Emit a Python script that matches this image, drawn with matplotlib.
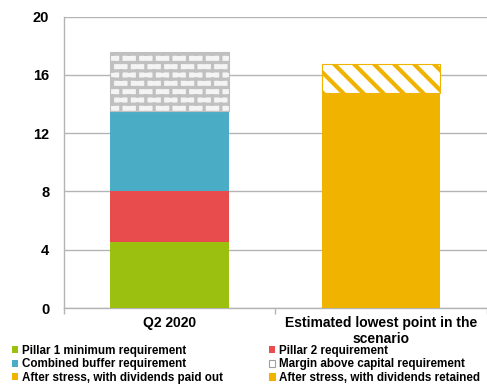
import numpy as np
import matplotlib
matplotlib.use("Agg")
import matplotlib.pyplot as plt
import matplotlib.hatch as mhatch
from matplotlib.path import Path
from matplotlib.patches import Patch

# CET1 ratio components, per cent of risk-weighted assets
categories = ["Q2 2020", "Estimated lowest point in the\nscenario"]
pillar1 = [4.5, 0.0]
pillar2 = [3.5, 0.0]
combined_buffer = [5.5, 0.0]
margin = [4.1, 0.0]
paid_out = [0.0, 14.75]
retained = [0.0, 2.0]

legend_labels = ["Pillar 1 minimum requirement", "Pillar 2 requirement",
                 "Combined buffer requirement", "Margin above capital requirement",
                 "After stress, with dividends paid out", "After stress, with dividends retained"]

GREEN = "#9BC00F"
RED = "#E84C4C"
BLUE = "#4BACC6"
YELLOW = "#F0B400"
MORTAR = "#C0C0C0"
GRID = "#B4B4B4"


class BrickHatch(mhatch.HatchPatternBase):
    """Staggered brick wall, triggered by 'b' in the hatch string."""
    rows, cols = 12, 6

    def __init__(self, hatch, density):
        self.num_vertices = 2 * (self.rows + (self.rows + 1) * self.cols) if "b" in hatch else 0

    def set_vertices_and_codes(self, vertices, codes):
        h = 1.0 / self.rows
        segs = []
        for i in range(self.rows):
            y = (i + 0.5) * h
            segs.append(((0.0, y), (1.0, y)))
        for i in range(-1, self.rows):
            y0 = (i + 0.5) * h
            shift = 0.5 * (i % 2) + 0.25
            for j in range(self.cols):
                x = (j + shift) / self.cols
                segs.append(((x, y0), (x, y0 + h)))
        vertices[:] = np.array(segs).reshape(-1, 2)
        codes[0::2] = Path.MOVETO
        codes[1::2] = Path.LINETO


class StripeHatch(mhatch.HatchPatternBase):
    """Wide diagonal stripes running down to the right, triggered by 's'."""
    n = 5

    def __init__(self, hatch, density):
        self.num_vertices = 4 * self.n if "s" in hatch else 0

    def set_vertices_and_codes(self, vertices, codes):
        c = (np.arange(2 * self.n) + 0.5) / self.n
        vertices[0::2, 0] = c - 1.0
        vertices[0::2, 1] = 1.0
        vertices[1::2, 0] = c
        vertices[1::2, 1] = 0.0
        codes[0::2] = Path.MOVETO
        codes[1::2] = Path.LINETO


mhatch._hatch_types.extend([BrickHatch, StripeHatch])
mhatch._validate_hatch_pattern = lambda hatch: None

plt.rcParams["font.family"] = ["Liberation Sans", "DejaVu Sans"]
plt.rcParams["font.weight"] = "bold"

fig = plt.figure(figsize=(4.87, 3.85), dpi=100)
ax = fig.add_axes([0.131, 0.2, 0.869, 0.7566])

x = np.arange(len(categories))
w = 0.56

ax.bar(x, pillar1, w, color=GREEN, zorder=3)
ax.bar(x, pillar2, w, bottom=pillar1, color=RED, zorder=3)
base = np.add(pillar1, pillar2)
ax.bar(x, combined_buffer, w, bottom=base, color=BLUE, zorder=3)
base = base + combined_buffer
with plt.rc_context({"hatch.linewidth": 2.3, "hatch.color": MORTAR}):
    ax.bar(x, margin, w, bottom=base, color="#F4F4F4", edgecolor=MORTAR,
           hatch="b", linewidth=0.8, zorder=3)
ax.bar(x, paid_out, w, color=YELLOW, zorder=3)
with plt.rc_context({"hatch.linewidth": 3.0, "hatch.color": YELLOW}):
    ax.bar(x, retained, w, bottom=paid_out, color="white", edgecolor=YELLOW,
           hatch="s", linewidth=0.8, zorder=3)

ax.set_xlim(-0.5, 1.5)
ax.set_ylim(0, 20)
ax.set_yticks([0, 4, 8, 12, 16, 20])
ax.yaxis.grid(True, color=GRID, linewidth=1.0, zorder=0)
ax.set_xticks(x)
ax.set_xticklabels(categories, fontsize=10, fontweight="bold", linespacing=1.2)
ax.set_xticks([-0.5, 0.5, 1.5], minor=True)
ax.tick_params(axis="x", which="major", length=0, pad=5.5)
ax.tick_params(axis="x", which="minor", length=4, color=GRID, width=1)
ax.tick_params(axis="y", length=0, pad=10.5, labelsize=10.5)
for lab in ax.get_yticklabels():
    lab.set_fontweight("bold")
for side in ("top", "right"):
    ax.spines[side].set_visible(False)
for side in ("left", "bottom"):
    ax.spines[side].set_color(GRID)
    ax.spines[side].set_linewidth(1.0)

handles = [
    Patch(facecolor=GREEN),
    Patch(facecolor=BLUE),
    Patch(facecolor=YELLOW),
    Patch(facecolor=RED),
    Patch(facecolor="white", edgecolor="#A0A0A0", linewidth=0.8),
    Patch(facecolor=YELLOW, edgecolor=YELLOW, linewidth=0.8),
]
labels = [legend_labels[i] for i in (0, 2, 4, 1, 3, 5)]
fig.legend(handles, labels, ncol=2, loc="upper left", bbox_to_anchor=(0.024, 0.104),
           frameon=False, prop={"size": 8.4, "weight": "bold"},
           handlelength=0.55, handleheight=0.55, handletextpad=0.3,
           labelspacing=0.12, columnspacing=3.95, borderpad=0, borderaxespad=0)

fig.savefig("out.png", dpi=100)
